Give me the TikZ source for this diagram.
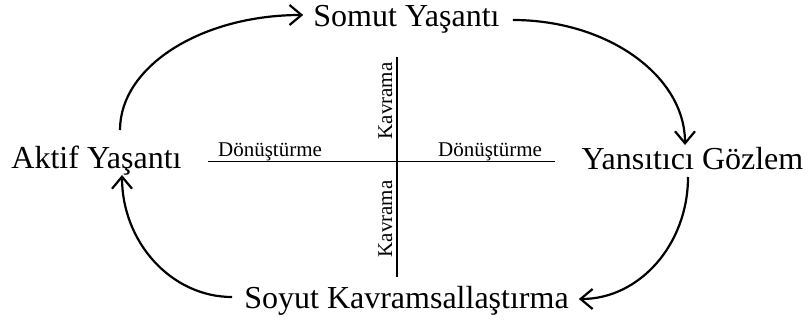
\documentclass[tikz,border=0pt]{standalone}
\usepackage{fontspec}
\setmainfont{Liberation Serif}
\usetikzlibrary{arrows.meta}
\tikzset{
  mainlabel/.style={font=\fontsize{32}{38}\selectfont, inner sep=0pt, anchor=base},
  smalllabel/.style={font=\fontsize{21}{25}\selectfont, inner sep=0pt, anchor=base},
  cycle arrow/.style={line width=2.2pt, -{Straight Barb[length=12pt,width=20pt]}},
  axis line/.style={line width=1.6pt}
}
\begin{document}
\begin{tikzpicture}[x=1pt,y=1pt]
\useasboundingbox (0,0) rectangle (810,324);
% main labels
\node[mainlabel] (somut) at (406.5,297) {Somut Yaşantı};
\node[mainlabel] (aktif) at (96.5,155) {Aktif Yaşantı};
\node[mainlabel] (yans) at (692.5,154) {Yansıtıcı Gözlem};
\node[mainlabel] (soyut) at (406.5,16) {Soyut Kavramsallaştırma};
% cross
\coordinate (hl) at (208,162.3);
\coordinate (hr) at (555,162.3);
\coordinate (vt) at (397,267);
\coordinate (vb) at (397,47);
\draw[axis line] (hl) -- (hr);
\draw[axis line] (vt) -- (vb);
\node[smalllabel] (d1) at (270,167) {Dönüştürme};
\node[smalllabel] (d2) at (490,167) {Dönüştürme};
\node[smalllabel, rotate=90] (k1) at (392,223) {Kavrama};
\node[smalllabel, rotate=90] (k2) at (392,105) {Kavrama};
% cycle arrows
\draw[cycle arrow] ([shift={(23.5,39)}]aktif.base)
  .. controls +(0,63.5) and +(-102,0) .. ([shift={(-10,12)}]somut.base west);
\draw[cycle arrow] ([shift={(13,7)}]somut.base east)
  .. controls +(95,0) and +(0,69) .. ([shift={(-7.5,25)}]yans.base);
\draw[cycle arrow] ([shift={(-4.5,-7)}]yans.base)
  .. controls +(0,-67) and +(61,0) .. ([shift={(10,9)}]soyut.base east);
\draw[cycle arrow] ([shift={(-12,11)}]soyut.base west)
  .. controls +(-61,0) and +(0,-67) .. ([shift={(25.5,-6)}]aktif.base);
\end{tikzpicture}
\end{document}
